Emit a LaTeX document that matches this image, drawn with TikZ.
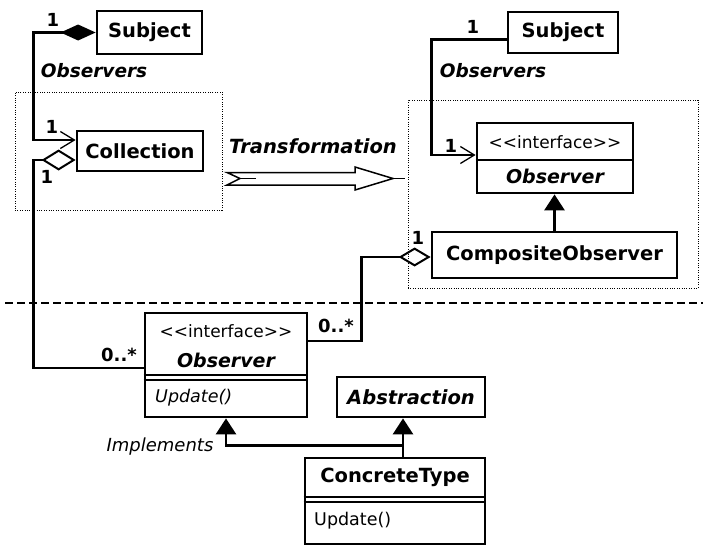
\documentclass[tikz,border=0pt]{standalone}
\usepackage{fontspec}
\setmainfont{DejaVu Sans}
\usetikzlibrary{arrows.meta,calc}
\newcommand{\stereotxt}{<\kern0pt<interface>\kern0pt>}
\begin{document}
\begin{tikzpicture}[x=1pt,y=-1pt,
  box/.style={draw,line width=2.8pt,inner sep=0pt},
  cls/.style={box,font=\fontsize{19.5}{22}\selectfont\bfseries},
  clsi/.style={box,font=\fontsize{19.5}{22}\selectfont\bfseries\itshape},
  txtb/.style={inner sep=0pt,font=\fontsize{19.5}{22}\selectfont\bfseries},
  txtbi/.style={inner sep=0pt,font=\fontsize{19}{22}\selectfont\bfseries\itshape},
  stereo/.style={inner sep=0pt,font=\fontsize{17}{20}\selectfont},
  oper/.style={inner sep=0pt,anchor=west,font=\fontsize{17.5}{20}\selectfont},
  operi/.style={inner sep=0pt,anchor=west,font=\fontsize{17.5}{20}\selectfont\itshape},
  mult/.style={inner sep=0pt,font=\fontsize{18}{20}\selectfont\bfseries},
  role/.style={inner sep=0pt,font=\fontsize{18.5}{22}\selectfont\bfseries\itshape},
  conn/.style={line width=2.8pt},
  divider/.style={line width=1.4pt},
  nav/.style={-{Straight Barb[length=14pt,width=17pt,line width=1.3pt]}},
  inh/.style={-{Triangle[length=16pt,width=20pt]}},
  dotbox/.style={draw,line width=1pt,dash pattern=on 1pt off 1.4pt,inner sep=0pt},
]
\useasboundingbox (0,0) rectangle (703,546);

% grouping frames
\node[dotbox,minimum width=207pt,minimum height=118pt] (dotL) at (118.5,151) {};
\node[dotbox,minimum width=290pt,minimum height=188pt] (dotR) at (553,194) {};

% separator
\coordinate (sepA) at (5,303);
\coordinate (sepB) at (703,303);
\draw[line width=1.5pt,dash pattern=on 8pt off 4pt] (sepA) -- (sepB);

% classes, top left
\node[cls,minimum width=105pt,minimum height=43pt] (subjL) at (149.5,32.5) {Subject};
\node[cls,minimum width=126pt,minimum height=40pt] (coll) at (140,151) {Collection};

% classes, top right
\node[cls,minimum width=110pt,minimum height=41pt] (subjR) at (563,32.5) {Subject};
\node[box,minimum width=156pt,minimum height=70pt] (obsR) at (555,158) {};
\node[stereo] (obsRst) at (555,142) {\stereotxt};
\node[txtbi] (obsRnm) at (555,176) {Observer};
\coordinate (dR) at (0,160);
\draw[divider] (obsR.west |- dR) -- (obsR.east |- dR);
\node[cls,minimum width=245pt,minimum height=46pt] (comp) at (554.5,255) {CompositeObserver};

% classes, bottom
\node[box,minimum width=162pt,minimum height=104pt] (obsB) at (226,365) {};
\node[stereo] (obsBst) at (226,331) {\stereotxt};
\node[txtbi] (obsBnm) at (226,360) {Observer};
\coordinate (dB1) at (0,375);
\coordinate (dB2) at (0,380);
\draw[divider] (obsB.west |- dB1) -- (obsB.east |- dB1);
\draw[divider] (obsB.west |- dB2) -- (obsB.east |- dB2);
\node[operi] (obsBop) at (155,398) {Update()};

\node[clsi,minimum width=148pt,minimum height=40pt] (abst) at (411,397) {Abstraction};

\node[box,minimum width=180pt,minimum height=86pt] (conc) at (395,501) {};
\node[txtb] (concnm) at (395,477) {ConcreteType};
\coordinate (dC1) at (0,497);
\coordinate (dC2) at (0,502);
\draw[divider] (conc.west |- dC1) -- (conc.east |- dC1);
\draw[divider] (conc.west |- dC2) -- (conc.east |- dC2);
\node[oper] (concop) at (314,521) {Update()};

% associations, top left
\draw[conn,{Diamond[length=35pt,width=16pt]}-{Straight Barb[length=14pt,width=17pt,line width=1.3pt]}]
  (subjL.west) -- ++(-62,0) |- ([yshift=11pt]coll.west);
\node[mult] (mA) at (53,20) {1};
\node[role] (rA) at (94,71) {Observers};
\node[mult] (mB) at (52,127) {1};

\draw[conn,{Diamond[open,length=34pt,width=21pt,line width=2pt]}-]
  ([yshift=-9pt]coll.west) -- ++(-42,0) |- ([yshift=-3pt]obsB.west);
\node[mult] (mC) at (47,177) {1};
\node[mult] (mD) at (119,355) {0..*};

% associations, top right
\draw[conn,nav] ([yshift=-7pt]subjR.west) -- ++(-75,0) |- ([yshift=3pt]obsR.west);
\node[mult] (mE) at (473,27) {1};
\node[role] (rB) at (493,71) {Observers};
\node[mult] (mF) at (451,146) {1};

\draw[conn,inh] (comp.north) -- (comp.north |- obsR.south);

\draw[conn,{Diamond[open,length=32pt,width=19pt,line width=2pt]}-]
  ([yshift=-2pt]comp.west) -- ++(-69,0) |- ([yshift=24pt]obsB.east);
\node[mult] (mG) at (418,238) {1};
\node[mult] (mH) at (336,326) {0..*};

% generalisations, bottom
\coordinate (cj) at ([xshift=8pt]conc.north);
\draw[conn,inh] (cj) -- (cj |- abst.south);
\draw[conn,inh] (cj) -- ++(0,-11) -| (obsB.south);
\node[inner sep=0pt,font=\fontsize{18}{20}\selectfont\itshape] (impl) at (160,447) {Implements};

% transformation arrow
\node[role,font=\fontsize{19.5}{22}\selectfont\bfseries\itshape] (trans) at (313,146) {Transformation};
\draw[line width=1.5pt,line join=miter]
  (227,172.5) -- (355,172.5) -- (355,167) -- (393,178.5) -- (355,190) -- (355,185) -- (227,185) -- (240,178.5) -- cycle;
\draw[line width=1.5pt] (393,178.5) -- (405,178.5);
\draw[line width=1.5pt] (240,178.5) -- (256,178.5);
\end{tikzpicture}
\end{document}
